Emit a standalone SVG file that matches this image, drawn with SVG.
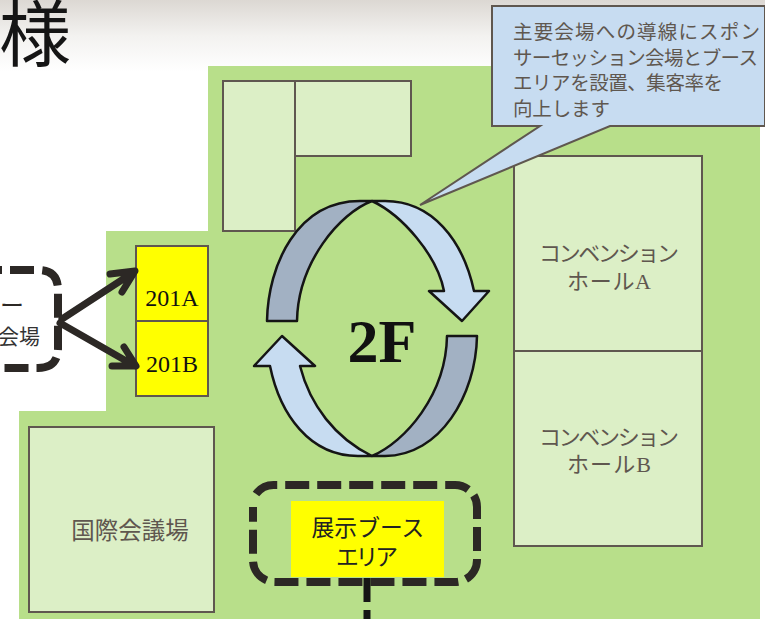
<svg xmlns="http://www.w3.org/2000/svg" width="765" height="619" viewBox="0 0 765 619">
<style>
text{font-family:"Noto Sans CJK JP","Noto Sans",sans-serif;fill:#5f574f;text-anchor:middle}
.r{fill:#dcefc6;stroke:#5f574f;stroke-width:2}
.y{fill:#ffff00;stroke:#5f574f;stroke-width:2}
.s{font-family:"Liberation Serif","Noto Sans CJK JP",serif;fill:#111}
.h{font-family:"Liberation Serif","Noto Sans CJK JP",serif;font-size:22px}
.c{font-size:19.500px;text-anchor:start}
.d{fill:#a2b1c3;stroke:#151515;stroke-width:2.500;stroke-linejoin:round}
.l{fill:#c7dcf1;stroke:#151515;stroke-width:2.500;stroke-linejoin:round}
.da{fill:none;stroke:#2c2825;stroke-width:8}
.ar{fill:none;stroke:#2c2825;stroke-width:7;stroke-linecap:round;stroke-linejoin:round}
</style>
<defs><linearGradient id="g" x1="0" y1="0" x2="0" y2="1"><stop offset="0" stop-color="#dcd8d3"/><stop offset="0.5" stop-color="#f3f2f0"/><stop offset="1" stop-color="#ffffff"/></linearGradient></defs>
<rect width="765" height="619" fill="#fff"/>
<rect width="765" height="72" fill="url(#g)"/>
<text x="35" y="60" font-size="72" style="fill:#151515">様</text>
<path d="M208 66H760V619H19V411H106V231H208Z" fill="#b8df8a"/>
<g id="room-top">
<rect class="r" x="295" y="81" width="116" height="75"/>
<rect class="r" x="223" y="81" width="72" height="150"/>
</g>
<g id="hall-a"><rect class="r" x="514" y="156" width="188" height="195"/>
<text class="h" x="609" y="261" textLength="140">コンベンション</text><text class="h" x="609" y="289" textLength="84">ホールA</text></g>
<g id="hall-b"><rect class="r" x="514" y="351" width="188" height="195"/>
<text class="h" x="609" y="445" textLength="140">コンベンション</text><text class="h" x="609" y="472" textLength="84">ホールB</text></g>
<g id="intl"><rect class="r" x="29" y="427" width="185" height="185"/>
<text x="130" y="539" font-size="23.500">国際会議場</text></g>
<g id="r201a"><rect class="y" x="136" y="246" width="72" height="75"/><text class="s" x="172" y="306" font-size="24">201A</text></g>
<g id="r201b"><rect class="y" x="136" y="321" width="72" height="75"/><text class="s" x="172" y="372" font-size="24">201B</text></g>
<g id="sponsor">
<path class="da" d="M0 270H38Q58 270 58 290V348Q58 368 38 368H0" stroke-dasharray="24 8" stroke-dashoffset="22"/>
<text x="12" y="314" font-size="24" style="fill:#2c2825">ー</text>
<text x="19" y="344" font-size="21" style="fill:#333">会場</text>
</g>
<g id="booth">
<path class="da" d="M256 494A22 22 0 0 1 275 485H455A22 22 0 0 1 477 507V560A22 22 0 0 1 455 582H275A22 22 0 0 1 253 560V507" stroke-dasharray="24 8"/>
<rect x="291" y="501" width="153" height="76" fill="#ffff00"/>
<text x="368" y="536" font-size="22.800" style="fill:#222">展示ブース</text>
<text x="367" y="565" font-size="22.800" style="fill:#222" textLength="62">エリア</text>
</g>
<g id="callout">
<path d="M492 6H765V126H610L420 205L540 126H492Z" fill="#c7dcf1" stroke="#5f574f" stroke-width="2"/>
<text class="c" x="513" y="39" textLength="247">主要会場への導線にスポン</text>
<text class="c" x="513" y="65" textLength="245">サーセッション会場とブース</text>
<text class="c" x="513" y="90" textLength="210">エリアを設置、集客率を</text>
<text class="c" x="513" y="116" textLength="97">向上します</text>
</g>
<g id="connectors">
<path class="ar" d="M62 319L134 272M110 274L135 271L122 292"/>
<path class="ar" d="M60 323L135 366M124 347L136 366L112 366"/>
<path d="M367 578V619" fill="none" stroke="#151515" stroke-width="7" stroke-dasharray="24 8"/>
</g>
<g id="cycle">
<path class="d" d="M267 321C268 265 297 201 360 201H372C340 213 298 262 297 321Z"/>
<path class="l" d="M372 201H385C432 201 463 240 474 291H489L462 321L429 291H444C437 255 402 215 372 201Z"/>
<path class="d" d="M477 336C476 395 440 456 385 456H372C405 442 446 395 447 336Z"/>
<path class="l" d="M372 456H358C310 456 280 415 270 366H254L282 336L315 366H300C310 405 335 438 372 456Z"/>
<text class="s" x="382" y="362" font-size="62" font-weight="bold">2F</text>
</g>
</svg>
